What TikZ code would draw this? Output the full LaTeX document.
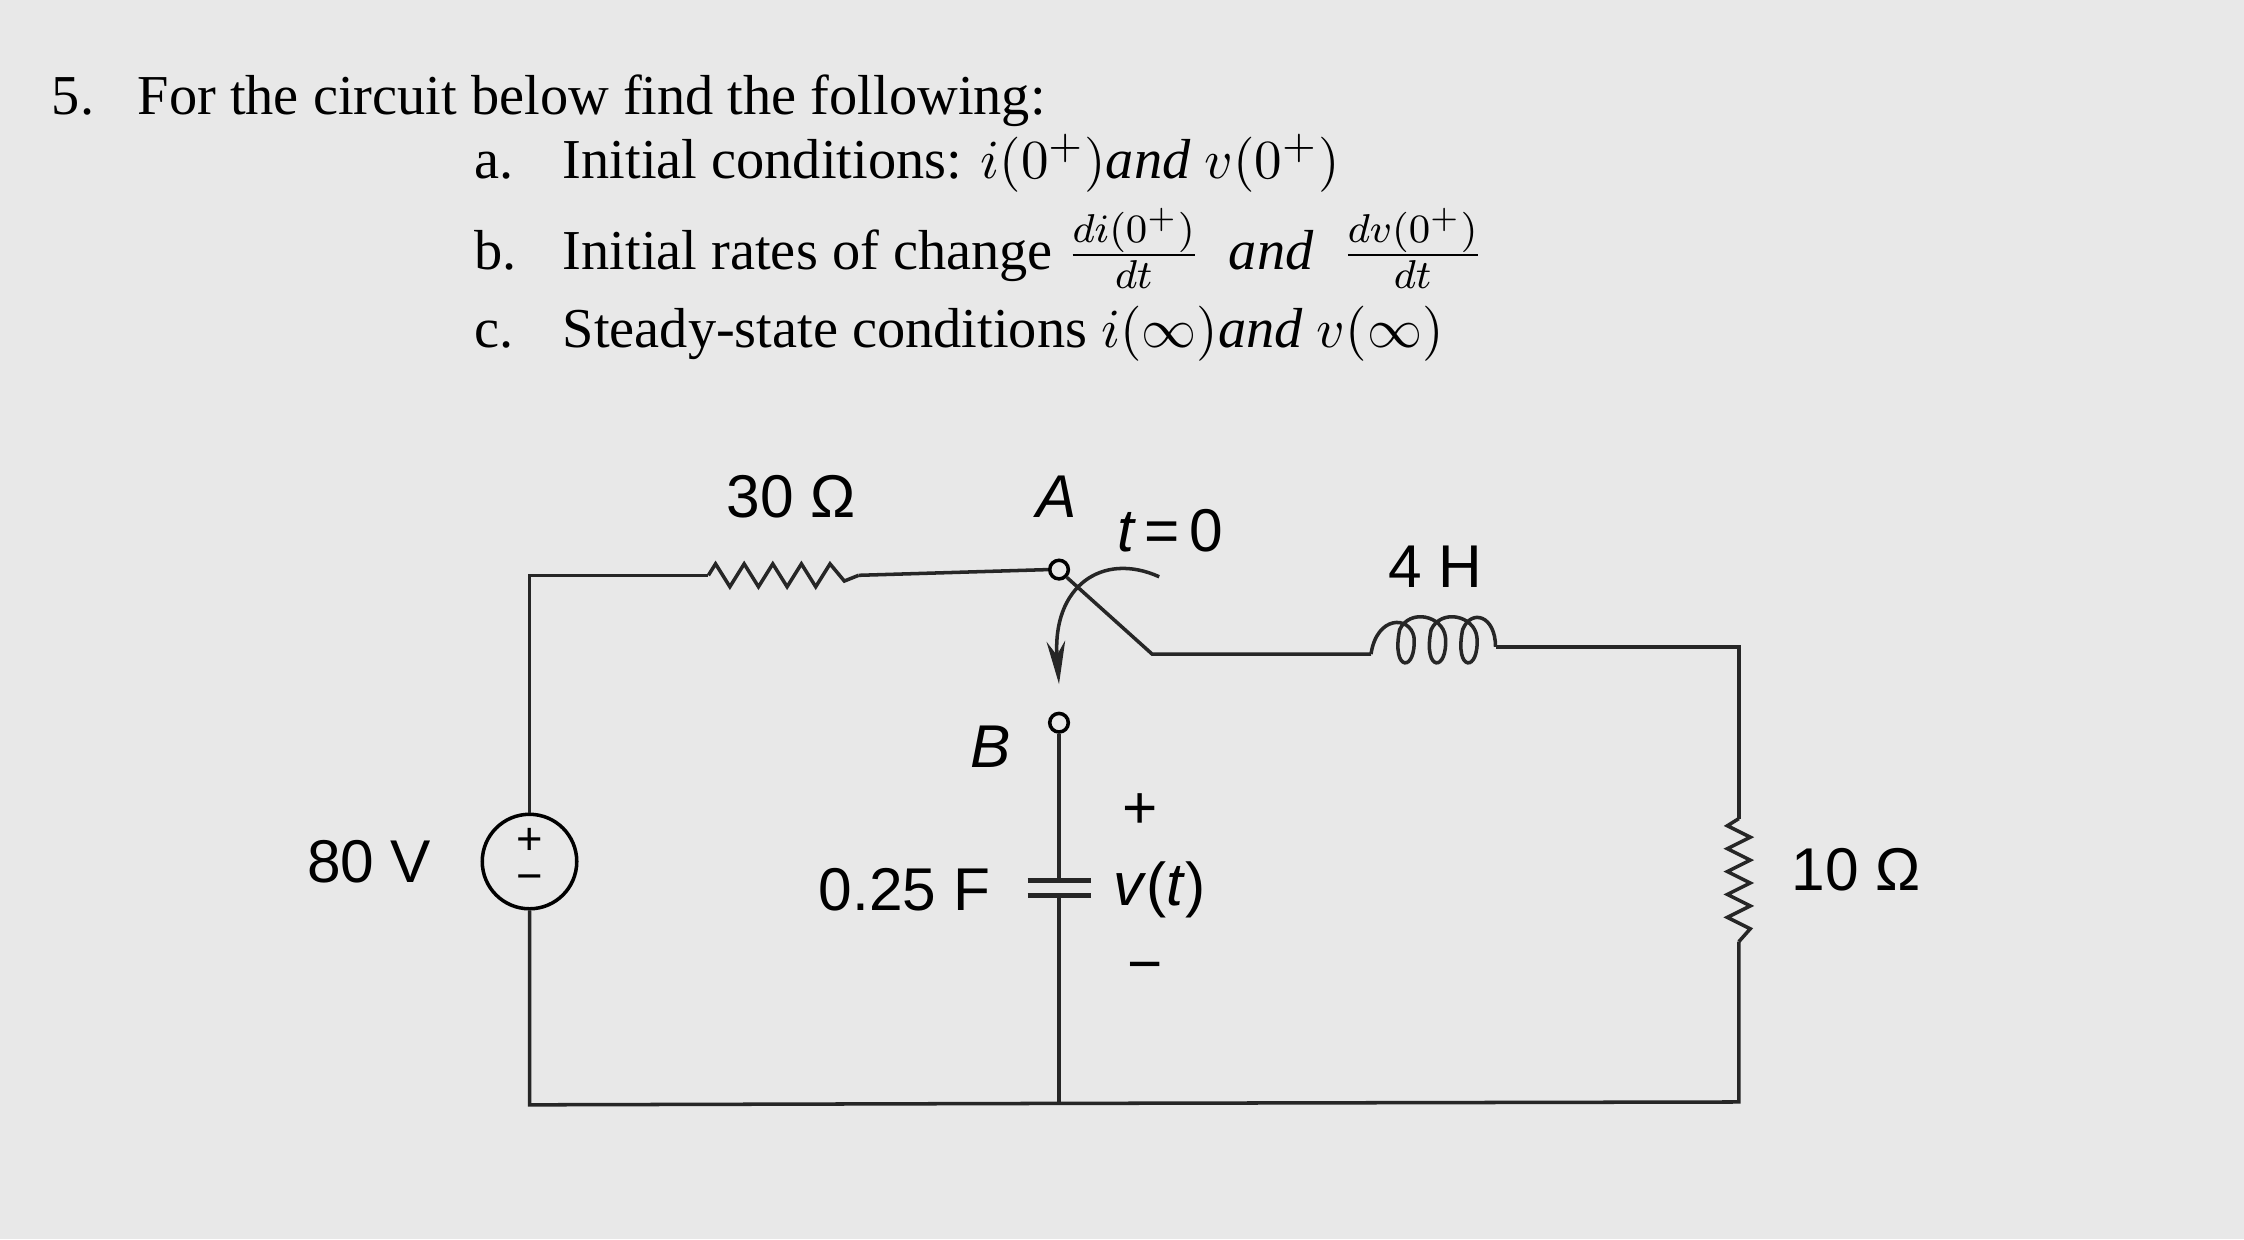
\documentclass[tikz,border=0pt]{standalone}
\usepackage{fontspec}
\setmainfont{Liberation Serif}
\newfontfamily\circfont{Liberation Sans}
\usetikzlibrary{arrows.meta}
\begin{document}
\begin{tikzpicture}[x=0.01cm,y=-0.01cm,line width=0.7pt,
  wire/.style={draw=black!85},
  lab/.style={font=\circfont\fontsize{12}{14}\selectfont,inner sep=0},
  sgn/.style={font=\circfont\fontsize{9}{10}\selectfont,inner sep=0},
  txt/.style={font=\fontsize{11.2}{13}\selectfont,anchor=base west,inner sep=0}]
\fill[black!9] (0,0) rectangle (1568,866);
\useasboundingbox (0,0) rectangle (1568,866);
% text
\node[txt] (n5) at (35,80) {5.};
\node[txt] (t0) at (95,80) {For the circuit below find the following:};
\node[txt] (ia) at (330,125) {a.};
\node[txt] (ta) at (392,125) {Initial conditions: $i(0^+)$\textit{and} $v(0^+)$};
\node[txt] (ib) at (330,188) {b.};
\node[txt] (tb) at (392,188) {Initial rates of change $\frac{di(0^+)}{dt}$ \ \textit{and} \ $\frac{dv(0^+)}{dt}$};
\node[txt] (ic) at (330,243) {c.};
\node[txt] (tc) at (392,243) {Steady-state conditions $i(\infty)$\textit{and} $v(\infty)$};
% coordinates
\coordinate (tl) at (370,402);
\coordinate (r1a) at (495,402);
\coordinate (r1b) at (600,402);
\node[circle,draw,inner sep=0,minimum size=0.13cm] (A) at (740,398) {};
\node[circle,draw,inner sep=0,minimum size=0.13cm] (B) at (740,505) {};
\coordinate (sw) at (805,457);
\coordinate (la) at (958,457);
\coordinate (lb) at (1045,452);
\coordinate (tr) at (1215,452);
\coordinate (r2a) at (1215,572);
\coordinate (r2b) at (1215,658);
\coordinate (br) at (1215,770);
\coordinate (bl) at (370,772);
\coordinate (bm) at (740,771);
\coordinate (c1) at (740,615);
\coordinate (c2) at (740,626);
\node[circle,draw,inner sep=0,minimum size=0.66cm] (S) at (370,602) {};
% wires
\draw[wire] (S.north) -- (tl) -- (r1a);
\draw[wire] (r1a) -- ++(5,-8) -- ++(10,16) -- ++(10,-16) -- ++(10,16) -- ++(10,-16) -- ++(10,16) -- ++(10,-16) -- ++(10,16) -- ++(10,-16)--++(10,12) -- (r1b);
\draw[wire] (r1b) -- (A.west);
\draw[wire] (A.south east) -- (sw) -- (la);
\draw[wire] (la) .. controls (962,430) and (985,430) .. (988,445) .. controls (990,470) and (972,470) .. (978,440)
  .. controls (985,425) and (1008,430) .. (1010,445) .. controls (1012,470) and (994,470) .. (1000,440)
  .. controls (1007,425) and (1030,430) .. (1032,445) .. controls (1034,470) and (1016,470) .. (1022,440)
  .. controls (1028,425) and (1045,430) .. (lb);
\draw[wire] (lb) -- (tr) -- (r2a);
\draw[wire] (r2a) -- ++(-8,5) -- ++(16,8) -- ++(-16,8) -- ++(16,8) -- ++(-16,8) -- ++(16,8) -- ++(-16,8) -- ++(16,8) -- ++(-16,8) -- ++(16,8) -- (r2b);
\draw[wire] (r2b) -- (br) -- (bm) -- (bl) -- (S.south);
\draw[wire] (B.south) -- (c1);
\draw[wire,line width=1pt] (718,615) -- (762,615) (718,626) -- (762,626);
\draw[wire] (c2) -- (bm);
\draw[wire,-{Stealth[length=0.3cm,width=0.13cm]}] (810,403) .. controls (770,385) and (735,410) .. (740,478);
% source signs
\node[sgn] (sp) at (370,588) {+};
\node[sgn] (sm) at (370,617) {\textminus};
% labels
\node[lab] (l30) at (553,347) {30 Ω};
\node[lab] (lA) at (738,347) {\itshape A};
\node[lab] (lt) at (818,371) {\itshape t\upshape\,=\,0};
\node[lab] (l4) at (1003,396) {4 H};
\node[lab] (lB) at (692,522) {\itshape B};
\node[lab] (lp) at (797,567) {+};
\node[lab] (lv) at (810,622) {\textit{v}(\textit{t})};
\node[lab] (lm) at (800,680) {\textminus};
\node[lab] (lc) at (632,622) {0.25 F};
\node[lab] (l80) at (258,602) {80 V};
\node[lab] (l10) at (1297,608) {10 Ω};
\end{tikzpicture}
\end{document}
